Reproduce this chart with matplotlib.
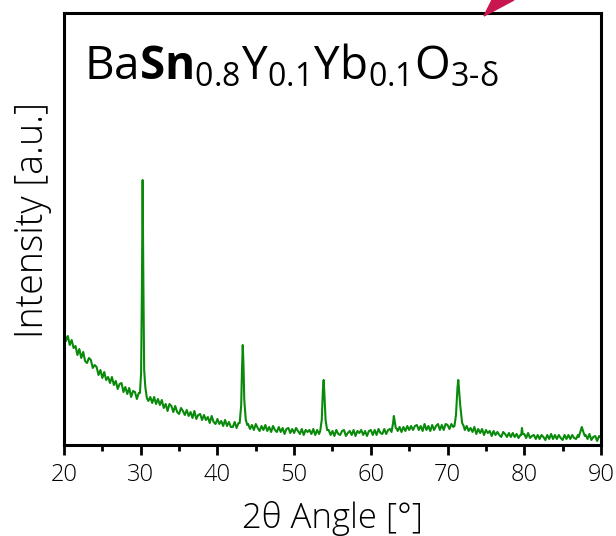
import numpy as np
import matplotlib.pyplot as plt
from matplotlib.patches import Polygon

plt.rcParams['font.family'] = ['Open Sans', 'DejaVu Sans']
plt.rcParams['mathtext.fontset'] = 'custom'
plt.rcParams['mathtext.rm'] = 'Open Sans'
plt.rcParams['mathtext.bf'] = 'Open Sans:bold'
plt.rcParams['mathtext.it'] = 'Open Sans'

# Diffractogramme : fond bruité (pas de 0.25°)
fond_angle = np.linspace(20, 90, 281)
fond_intensite = [
    116, 104, 109, 100, 105, 97, 99, 90,
    96, 87, 93, 84, 82, 87, 85, 77,
    80, 78, 70, 75, 67, 73, 65, 68,
    62, 68, 60, 64, 56, 61, 62, 53,
    58, 51, 57, 48, 54, 53, 46, 52,
    50, 49, 48, 51, 44, 48, 42, 48,
    41, 46, 40, 45, 37, 41, 34, 41,
    39, 33, 39, 33, 31, 37, 34, 30,
    35, 29, 33, 27, 34, 26, 30, 31,
    25, 30, 25, 28, 22, 29, 23, 21,
    26, 21, 24, 19, 25, 19, 23, 18,
    18, 23, 17, 22, 20, 19, 19, 19,
    21, 16, 20, 15, 21, 17, 14, 19,
    15, 20, 14, 18, 13, 19, 15, 13,
    18, 13, 17, 11, 16, 17, 12, 16,
    12, 17, 14, 11, 16, 10, 15, 13,
    15, 11, 16, 10, 15, 11, 13, 13,
    13, 13, 15, 10, 14, 9, 15, 11,
    10, 14, 15, 9, 12, 14, 10, 15,
    9, 14, 12, 15, 10, 14, 9, 14,
    15, 10, 15, 10, 16, 12, 11, 16,
    11, 15, 16, 13, 14, 14, 14, 18,
    13, 18, 14, 19, 15, 19, 15, 19,
    20, 15, 19, 14, 21, 15, 19, 14,
    20, 15, 19, 21, 15, 20, 15, 21,
    20, 16, 21, 18, 19, 19, 19, 19,
    19, 15, 19, 14, 17, 13, 18, 11,
    16, 12, 16, 10, 15, 12, 14, 9,
    14, 10, 13, 10, 8, 13, 11, 8,
    12, 8, 12, 8, 11, 7, 10, 9,
    11, 7, 12, 7, 9, 10, 6, 10,
    6, 10, 8, 5, 10, 6, 11, 6,
    10, 6, 10, 7, 5, 10, 6, 10,
    6, 10, 7, 6, 10, 8, 8, 8,
    10, 6, 11, 5, 8, 9, 4, 9,
    7,
]

# Pics de diffraction (points lus autour de chaque raie)
pics_angle = [
    [29.9, 30.05, 30.15, 30.25, 30.35, 30.45, 30.6, 30.8],
    [42.9, 43.1, 43.2, 43.3, 43.4, 43.5, 43.7, 43.9],
    [53.4, 53.6, 53.75, 53.85, 53.95, 54.1, 54.3],
    [62.7, 62.9, 63.0, 63.1, 63.25, 63.4],
    [70.9, 71.1, 71.3, 71.4, 71.5, 71.65, 71.9, 72.1],
    [79.6, 79.7, 79.8],
    [87.1, 87.3, 87.5, 87.7, 87.9],
]
pics_intensite = [
    [52, 72, 150, 265, 160, 75, 58, 47],
    [22, 40, 75, 100, 80, 45, 25, 20],
    [14, 25, 55, 65, 50, 25, 15],
    [13, 22, 29, 24, 17, 16],
    [19, 30, 58, 65, 55, 40, 22, 19],
    [10, 17, 11],
    [8, 13, 18, 13, 9],
]

# On assemble le fond et les pics
angle = np.array(fond_angle)
intensite = np.array(fond_intensite, dtype=float)
garde = np.ones(len(angle), dtype=bool)
for a in pics_angle:
    garde &= ~((angle >= min(a)) & (angle <= max(a)))
angle = np.concatenate([angle[garde]] + [np.array(a) for a in pics_angle])
intensite = np.concatenate([intensite[garde]] + [np.array(i, dtype=float) for i in pics_intensite])
ordre = np.argsort(angle)
angle, intensite = angle[ordre], intensite[ordre]

fig = plt.figure(figsize=(6.16, 5.36), dpi=100)
ax = fig.add_axes([0.1039, 0.1698, 0.8717, 0.8059])

ax.plot(angle, intensite, color='#0a8a0a', lw=1.5)
ax.set_xlim(20, 90)
ax.set_ylim(0, 432)
ax.set_yticks([])
ax.set_xticks(range(20, 91, 10))
ax.set_xticks(range(25, 90, 10), minor=True)
ax.tick_params(axis='x', which='major', direction='out', length=7, width=2,
               labelsize=17, pad=6)
ax.tick_params(axis='x', which='minor', direction='out', length=4, width=2)
for s in ax.spines.values():
    s.set_linewidth(2.2)

ax.set_xlabel('2θ Angle [°]', fontsize=25, fontweight='light', labelpad=10)
ax.set_ylabel('Intensity [a.u.]', fontsize=27, fontweight='light')
ax.yaxis.set_label_coords(-0.022, 0.52)
for lab in ax.get_xticklabels():
    lab.set_fontweight('light')

ax.text(0.037, 0.845,
        r'$\mathrm{Ba}\mathbf{Sn}_{\mathrm{0.8}}\mathrm{Y}_{\mathrm{0.1}}'
        r'\mathrm{Yb}_{\mathrm{0.1}}\mathrm{O}_{\mathrm{3\text{-}}\delta}$',
        transform=ax.transAxes, fontsize=33, va='baseline', ha='left')

# Pointe de flèche coupée en haut à droite
fleche = Polygon([[484 / 616, 1 - 16 / 536], [492 / 616, 1.0], [514 / 616, 1.0]],
                 closed=True, transform=fig.transFigure, color='#c8174e', clip_on=False)
fig.patches.append(fleche)

fig.savefig('out.png', dpi=100)
